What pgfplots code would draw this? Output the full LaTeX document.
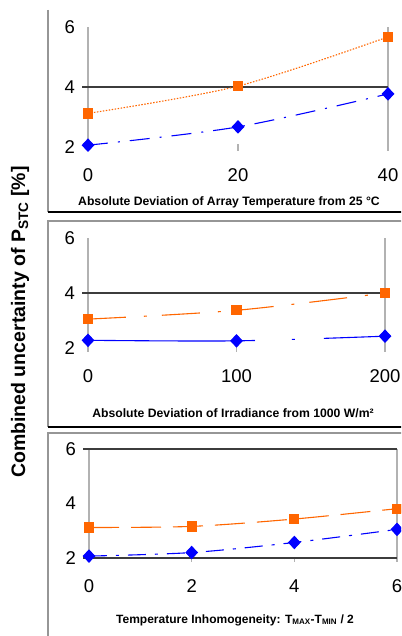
\documentclass[border=0pt]{standalone}
\usepackage{fontspec}
\setmainfont{Liberation Sans}
\usepackage{pgfplots}
\pgfplotsset{compat=1.18}
\definecolor{sorange}{RGB}{255,102,0}
\definecolor{sblue}{RGB}{0,0,255}
\definecolor{gridg}{RGB}{178,178,178}
\definecolor{frameg}{RGB}{150,150,150}
\definecolor{darkl}{RGB}{60,60,60}
\pgfplotsset{panel/.style={
  scale only axis, clip=false, anchor=south west,
  axis x line*=bottom, axis y line*=left, axis line style={draw=none},
  ymin=2, ymax=6, ytick={2,4,6},
  tick style={draw=none},
  /pgf/number format/assume math mode=true,
  ticklabel style={font=\fontsize{18.5}{19}\selectfont},
  yticklabel style={xshift=-9.5pt},
  xticklabel style={yshift=-18pt},
},
orangeline/.style={sorange, line width=1.1pt, smooth, mark=square*, mark size=4.6pt, mark options={solid, fill=sorange}},
blueline/.style={sblue, line width=1.1pt, smooth, mark=diamond*, mark size=6pt, mark options={solid, fill=sblue, xscale=1.25}},
}
\begin{document}
\begin{tikzpicture}
\useasboundingbox (0pt,0pt) rectangle (401pt,636pt);
\clip (0pt,0pt) rectangle (401pt,636pt);
% frames
\draw[frameg, line width=1.5pt] (48pt,626pt) -- (48pt,424pt);
\draw[black, line width=1.6pt] (48pt,424pt) -- (405pt,424pt);
\draw[frameg, line width=1.2pt] (405pt,415pt) -- (48pt,415pt) -- (48pt,209pt);
\draw[black, line width=1.6pt] (48pt,209pt) -- (405pt,209pt);
\draw[frameg, line width=1.2pt] (405pt,203pt) -- (48pt,203pt) -- (48pt,-2pt);
% y label
\node[rotate=90, font=\bfseries\fontsize{19.5}{20}\selectfont] at (20pt,314pt) {Combined uncertainty of P\textsubscript{STC} [\%]};
% x labels
\node[font=\bfseries\fontsize{12.2}{13}\selectfont] at (229pt,434pt) {Absolute Deviation of Array Temperature from 25 °C};
\node[font=\bfseries\fontsize{12.2}{13}\selectfont] at (233pt,223pt) {Absolute Deviation of Irradiance from 1000 W/m²};
\node[font=\bfseries\fontsize{12}{13}\selectfont] at (235pt,16pt) {Temperature Inhomogeneity: T\textsubscript{MAX}-T\textsubscript{MIN} / 2};

% Panel 1
\begin{axis}[panel, at={(88pt,489pt)}, width=300pt, height=120pt, xmin=0, xmax=40, xtick={0,20,40}]
\draw[gridg, line width=1.5pt] (axis cs:0,2) ++(0pt,-4pt) -- (axis cs:0,6);
\draw[gridg, line width=1.5pt] (axis cs:40,2) ++(0pt,-4pt) -- (axis cs:40,6);
\draw[gridg, line width=1.2pt] (axis cs:20,2) ++(0pt,-4pt) -- ++(0pt,7pt);
\draw[darkl, line width=1.3pt] (axis cs:0,4) ++(-6pt,0pt) -- (axis cs:40,4);
\addplot[orangeline, dash pattern=on 1.5pt off 1.5pt] coordinates {(0,3.12)(20,4.03)(40,5.67)};
\addplot[blueline, dash pattern=on 20pt off 10pt on 2pt off 10pt] coordinates {(0,2.06)(20,2.67)(40,3.77)};
\end{axis}

% Panel 2
\begin{axis}[panel, at={(88pt,288pt)}, width=297pt, height=110pt, xmin=0, xmax=200, xtick={0,100,200}]
\draw[gridg, line width=1.5pt] (axis cs:0,2) ++(0pt,-4pt) -- (axis cs:0,6);
\draw[gridg, line width=1.5pt] (axis cs:200,2) ++(0pt,-4pt) -- (axis cs:200,6);
\draw[gridg, line width=1.2pt] (axis cs:100,2) ++(0pt,-4pt) -- ++(0pt,7pt);
\draw[darkl, line width=1.3pt] (axis cs:0,4) ++(-6pt,0pt) -- (axis cs:200,4);
\addplot[orangeline, dash pattern=on 38pt off 18pt on 3pt off 15pt] coordinates {(0,3.05)(100,3.37)(200,4.0)};
\addplot[blueline, dash pattern=on 167pt off 37pt on 3pt off 29pt] coordinates {(0,2.28)(100,2.26)(200,2.43)};
\end{axis}

% Panel 3
\begin{axis}[panel, at={(89pt,78pt)}, width=308pt, height=109pt, xmin=0, xmax=6, xtick={0,2,4,6}]
\draw[gridg, line width=1.5pt] (axis cs:0,2) ++(0pt,-4pt) -- (axis cs:0,6);
\draw[gridg, line width=1.5pt] (axis cs:6,2) ++(0pt,-4pt) -- (axis cs:6,6);
\draw[gridg, line width=1.2pt] (axis cs:2,2) ++(0pt,-4pt) -- ++(0pt,4pt);
\draw[gridg, line width=1.2pt] (axis cs:4,2) ++(0pt,-4pt) -- ++(0pt,4pt);
\draw[darkl, line width=1.3pt] (axis cs:0,6) ++(-6pt,0pt) -- (axis cs:6,6);
\draw[darkl, line width=1.3pt] (axis cs:0,2) ++(-6pt,0pt) -- (axis cs:6,2);
\addplot[orangeline, dash pattern=on 30pt off 12pt] coordinates {(0,3.12)(2,3.16)(4,3.43)(6,3.81)};
\addplot[blueline, dash pattern=on 18pt off 9pt on 3pt off 9pt] coordinates {(0,2.07)(2,2.2)(4,2.57)(6,3.05)};
\end{axis}
\end{tikzpicture}
\end{document}
